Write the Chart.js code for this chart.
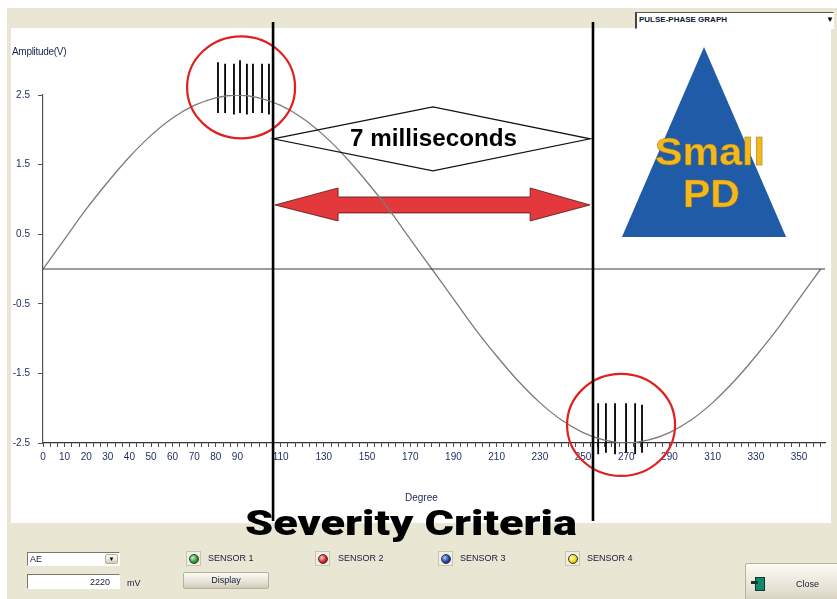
<!DOCTYPE html>
<html>
<head>
<meta charset="utf-8">
<script src="https://cdn.jsdelivr.net/npm/chart.js@4.4.0/dist/chart.umd.min.js"></script>
<style>
  html, body { margin: 0; padding: 0; background: #fff; }
  #wrap { position: relative; width: 837px; height: 599px; overflow: hidden;
          font-family: "Liberation Sans", Arial, sans-serif; }
  #frame { position: absolute; left: 7px; top: 8px; width: 830px; height: 591px; background: #e9e6d4; }
  #panel { position: absolute; left: 11px; top: 28px; width: 820px; height: 495px; background: #fff; }
  #chartBox { position: absolute; left: 0; top: 0; width: 837px; height: 599px; }
  .t { position: absolute; white-space: nowrap; color: #1b2550; }
  .big { color: #000; font-weight: bold; }
  .pd { color: #f5b81c; font-weight: bold; font-size: 38px; line-height: 38px;
        -webkit-text-stroke: 0.5px #a0781a; }
  .ui { font-size: 9px; color: #1b1b3a; }
  .box { position: absolute; background: #fff; border-top: 1px solid #7a7868; border-left: 1px solid #7a7868;
         border-bottom: 1px solid #fff; border-right: 1px solid #fff; box-sizing: border-box; }
  .led { position: absolute; width: 15px; height: 15px; box-sizing: border-box;
         border: 1px solid #c9c5b0; background: #f1efe4; }
  .led i { position: absolute; left: 2px; top: 2px; width: 10px; height: 10px; border-radius: 50%;
           border: 0.5px solid #333; box-sizing: border-box; }
  .btn { position: absolute; box-sizing: border-box; border: 1px solid #b6b29c; border-radius: 2px;
         background: linear-gradient(#fbfaf5, #e2ded0 70%, #cfcab6); font-size: 9px; color: #1b1b3a;
         text-align: center; }
</style>
</head>
<body>
<div id="wrap">
  <div id="frame"></div>
  <div id="panel"></div>

  <div class="box" style="left:635px;top:12px;width:199px;height:17px;border-left:2px solid #444;border-top:1px solid #555;"></div>
  <div class="t" style="left:639px;top:15px;font-size:8px;font-weight:bold;color:#101838;">PULSE-PHASE GRAPH</div>
  <div class="t" style="left:826px;top:15px;font-size:8px;color:#000;">&#9660;</div>

  <div id="chartBox"><canvas id="chart" width="837" height="599"></canvas></div>

  <div class="t" style="left:12px;top:46px;font-size:10px;letter-spacing:-0.3px;">Amplitude(V)</div>
  <div class="t" style="left:405px;top:492px;font-size:10px;">Degree</div>
  <div class="t big fit" data-l="350" data-w="167" style="top:127px;font-size:23px;line-height:23px;">7 milliseconds</div>
  <div class="t pd fit" data-l="655" data-w="110" style="top:133px;">Small</div>
  <div class="t pd fit" data-l="683" data-w="57" style="top:175px;">PD</div>
  <div class="t big fit" data-l="245" data-w="332" style="top:506px;font-family:Roboto,'DejaVu Sans',sans-serif;font-weight:900;font-size:35px;line-height:35px;">Severity Criteria</div>

  <!-- bottom control strip -->
  <div class="box" style="left:27px;top:552px;width:93px;height:14px;"></div>
  <div class="t ui" style="left:30px;top:554px;">AE</div>
  <div class="btn" style="left:105px;top:554px;width:13px;height:10px;font-size:6px;line-height:9px;color:#000;">&#9660;</div>
  <div class="box" style="left:27px;top:574px;width:93px;height:15px;"></div>
  <div class="t ui" style="left:90px;top:577px;">2220</div>
  <div class="t ui" style="left:127px;top:578px;">mV</div>

  <div class="led" style="left:186px;top:551px;"><i style="background:radial-gradient(circle at 35% 35%,#c9f5c9,#27a338 55%,#0b5a16);"></i></div>
  <div class="t ui" style="left:208px;top:553px;">SENSOR 1</div>
  <div class="led" style="left:315px;top:551px;"><i style="background:radial-gradient(circle at 35% 35%,#ffc9c9,#e0222a 55%,#7a0a0c);"></i></div>
  <div class="t ui" style="left:338px;top:553px;">SENSOR 2</div>
  <div class="led" style="left:438px;top:551px;"><i style="background:radial-gradient(circle at 35% 35%,#b8c8ff,#2440b0 55%,#0c1a5a);"></i></div>
  <div class="t ui" style="left:460px;top:553px;">SENSOR 3</div>
  <div class="led" style="left:565px;top:551px;"><i style="background:radial-gradient(circle at 35% 35%,#ffffc0,#ecd81a 55%,#857a08);"></i></div>
  <div class="t ui" style="left:587px;top:553px;">SENSOR 4</div>

  <div class="btn" style="left:183px;top:572px;width:86px;height:17px;line-height:15px;">Display</div>
  <div class="btn" style="left:745px;top:563px;width:95px;height:42px;line-height:40px;padding-left:30px;">Close</div>
  <div style="position:absolute;left:755px;top:577px;width:8px;height:12px;background:#138a6e;border:1px solid #063c30;"></div>
  <div style="position:absolute;left:751px;top:581px;width:7px;height:3px;background:#0b3a2c;"></div>
</div>

<script>
// sine trace, read every 10 degrees
const degrees = [0, 10, 20, 30, 40, 50, 60, 70, 80, 90, 100, 110, 120, 130, 140, 150, 160, 170, 180,
                 190, 200, 210, 220, 230, 240, 250, 260, 270, 280, 290, 300, 310, 320, 330, 340, 350, 360];
const amplitude = [0, 0.43, 0.86, 1.25, 1.61, 1.92, 2.17, 2.35, 2.46, 2.5, 2.46, 2.35, 2.17, 1.92, 1.61, 1.25, 0.86, 0.43, 0,
                   -0.43, -0.86, -1.25, -1.61, -1.92, -2.17, -2.35, -2.46, -2.5, -2.46, -2.35, -2.17, -1.92, -1.61, -1.25, -0.86, -0.43, 0];

// PD pulses near the positive and negative peaks
const topPulseDeg = [81, 84.3, 88.4, 91.2, 94.4, 97.2, 101.4, 104.6];
const topPulseHigh = [2.97, 2.95, 2.95, 3.0, 2.95, 2.95, 2.95, 2.95];
const topPulseLow = [2.24, 2.24, 2.22, 2.24, 2.22, 2.24, 2.24, 2.22];
const bottomPulseDeg = [257, 260.6, 264.8, 269.9, 274.1, 277.3];
const bottomPulseHigh = [-1.93, -1.93, -1.93, -1.93, -1.93, -1.95];
const bottomPulseLow = [-2.66, -2.64, -2.66, -2.64, -2.66, -2.64];

// axis labels
const xTickLabels = [0, 10, 20, 30, 40, 50, 60, 70, 80, 90, 110, 130, 150, 170, 190, 210, 230, 250, 270, 290, 310, 330, 350];
const yTickLabels = [2.5, 1.5, 0.5, -0.5, -1.5, -2.5];

// annotations (in degrees / volts)
const markerDeg = [106.5, 254.6];
const markerSpan = [3.55, -3.62];
const diamond = { left: 106.5, right: 253.3, mid: 180.5, level: 1.87 };
const arrow = { left: 107.4, headL: 136.6, headR: 225.5, right: 253.2, level: 0.92 };
const circles = [{ deg: 91.7, v: 2.61 }, { deg: 267.6, v: -2.24 }];
const triangle = { apex: 306, baseL: 268, baseR: 344, top: 3.19, base: 0.46 };

function pulseSegments(xs, hi, lo) {
  const pts = [];
  xs.forEach((d, i) => {
    pts.push({ x: d, y: hi[i] }, { x: d, y: lo[i] }, { x: d, y: null });
  });
  return pts;
}

const overlay = {
  id: 'overlay',
  beforeDatasetsDraw(chart) {
    const { ctx, scales: { x, y } } = chart;
    ctx.save();
    // triangle
    ctx.beginPath();
    ctx.moveTo(x.getPixelForValue(triangle.apex), y.getPixelForValue(triangle.top));
    ctx.lineTo(x.getPixelForValue(triangle.baseR), y.getPixelForValue(triangle.base));
    ctx.lineTo(x.getPixelForValue(triangle.baseL), y.getPixelForValue(triangle.base));
    ctx.closePath();
    ctx.fillStyle = '#1f5ba7';
    ctx.fill();
    // red double arrow
    const l = x.getPixelForValue(arrow.left), r = x.getPixelForValue(arrow.right);
    const hl = x.getPixelForValue(arrow.headL), hr = x.getPixelForValue(arrow.headR);
    const cy = y.getPixelForValue(arrow.level);
    ctx.beginPath();
    ctx.moveTo(l, cy);
    ctx.lineTo(hl, cy - 17); ctx.lineTo(hl, cy - 8); ctx.lineTo(hr, cy - 8); ctx.lineTo(hr, cy - 17);
    ctx.lineTo(r, cy);
    ctx.lineTo(hr, cy + 16); ctx.lineTo(hr, cy + 8); ctx.lineTo(hl, cy + 8); ctx.lineTo(hl, cy + 16);
    ctx.closePath();
    ctx.fillStyle = '#e3383c';
    ctx.fill();
    ctx.strokeStyle = '#5a1414';
    ctx.lineWidth = 0.8;
    ctx.stroke();
    ctx.restore();
  },
  afterDraw(chart) {
    const { ctx, scales: { x, y } } = chart;
    ctx.save();
    // red circles
    ctx.strokeStyle = '#e0201e';
    ctx.lineWidth = 2.2;
    circles.forEach(c => {
      ctx.beginPath();
      ctx.ellipse(x.getPixelForValue(c.deg), y.getPixelForValue(c.v), 54, 51, 0, 0, Math.PI * 2);
      ctx.stroke();
    });
    // diamond
    const dl = x.getPixelForValue(diamond.left), dr = x.getPixelForValue(diamond.right);
    const dm = x.getPixelForValue(diamond.mid), dy = y.getPixelForValue(diamond.level);
    ctx.beginPath();
    ctx.moveTo(dl, dy); ctx.lineTo(dm, dy - 32); ctx.lineTo(dr, dy); ctx.lineTo(dm, dy + 32);
    ctx.closePath();
    ctx.strokeStyle = '#111';
    ctx.lineWidth = 1.2;
    ctx.stroke();
    // vertical marker lines
    ctx.strokeStyle = '#000';
    ctx.lineWidth = 2.6;
    markerDeg.forEach(d => {
      const px = x.getPixelForValue(d);
      ctx.beginPath();
      ctx.moveTo(px, y.getPixelForValue(markerSpan[0]));
      ctx.lineTo(px, y.getPixelForValue(markerSpan[1]));
      ctx.stroke();
    });
    ctx.restore();
  }
};

const xTicks = [];
for (let i = 0; i * 10 / 3 <= 360.01; i++) xTicks.push(i * 10 / 3);

new Chart(document.getElementById('chart'), {
  type: 'line',
  data: {
    datasets: [
      {
        data: [{ x: 0, y: 0 }, { x: 362, y: 0 }],
        borderColor: '#3a3a3a', borderWidth: 1, pointRadius: 0
      },
      {
        data: degrees.map((d, i) => ({ x: d, y: amplitude[i] })),
        borderColor: '#7b7b7b', borderWidth: 1.3, pointRadius: 0, tension: 0.4
      },
      {
        data: pulseSegments(topPulseDeg, topPulseHigh, topPulseLow),
        borderColor: '#000', borderWidth: 1.8, pointRadius: 0, spanGaps: false, clip: false
      },
      {
        data: pulseSegments(bottomPulseDeg, bottomPulseHigh, bottomPulseLow),
        borderColor: '#000', borderWidth: 1.8, pointRadius: 0, spanGaps: false, clip: false
      }
    ]
  },
  options: {
    responsive: false,
    animation: false,
    devicePixelRatio: 1,
    layout: { padding: { left: 0, right: 12, top: 95, bottom: 128 } },
    plugins: { legend: { display: false }, tooltip: { enabled: false } },
    scales: {
      x: {
        type: 'linear', min: 0, max: 362,
        afterFit: (s) => { s.height = 28; },
        afterBuildTicks: (s) => { s.ticks = xTicks.map(v => ({ value: v })); },
        grid: { drawOnChartArea: false, drawTicks: true, tickLength: 4, color: '#4a4a4a' },
        border: { display: true, color: '#333', width: 1.2 },
        ticks: {
          autoSkip: false, maxRotation: 0, padding: 4,
          color: '#1b2a5c', font: { family: 'Liberation Sans', size: 10 },
          callback: (v) => {
            const hit = xTickLabels.find(l => Math.abs(l - v) < 0.01);
            return hit === undefined ? '' : String(hit);
          }
        }
      },
      y: {
        type: 'linear', min: -2.5, max: 2.5,
        afterFit: (s) => { s.width = 43; },
        afterBuildTicks: (s) => { s.ticks = yTickLabels.map(v => ({ value: v })); },
        grid: { drawOnChartArea: false, drawTicks: true, tickLength: 5, color: '#555' },
        border: { display: true, color: '#555', width: 1.2 },
        ticks: {
          padding: 8, color: '#1b2a5c', font: { family: 'Liberation Sans', size: 10 },
          callback: (v) => v.toFixed(1)
        }
      }
    }
  },
  plugins: [overlay]
});

// stretch the big annotation texts to the widths seen in the picture
document.querySelectorAll('.fit').forEach(el => {
  const w = el.getBoundingClientRect().width;
  el.style.left = el.dataset.l + 'px';
  el.style.transformOrigin = '0 0';
  el.style.transform = 'scaleX(' + (el.dataset.w / w).toFixed(3) + ')';
});
</script>
</body>
</html>
